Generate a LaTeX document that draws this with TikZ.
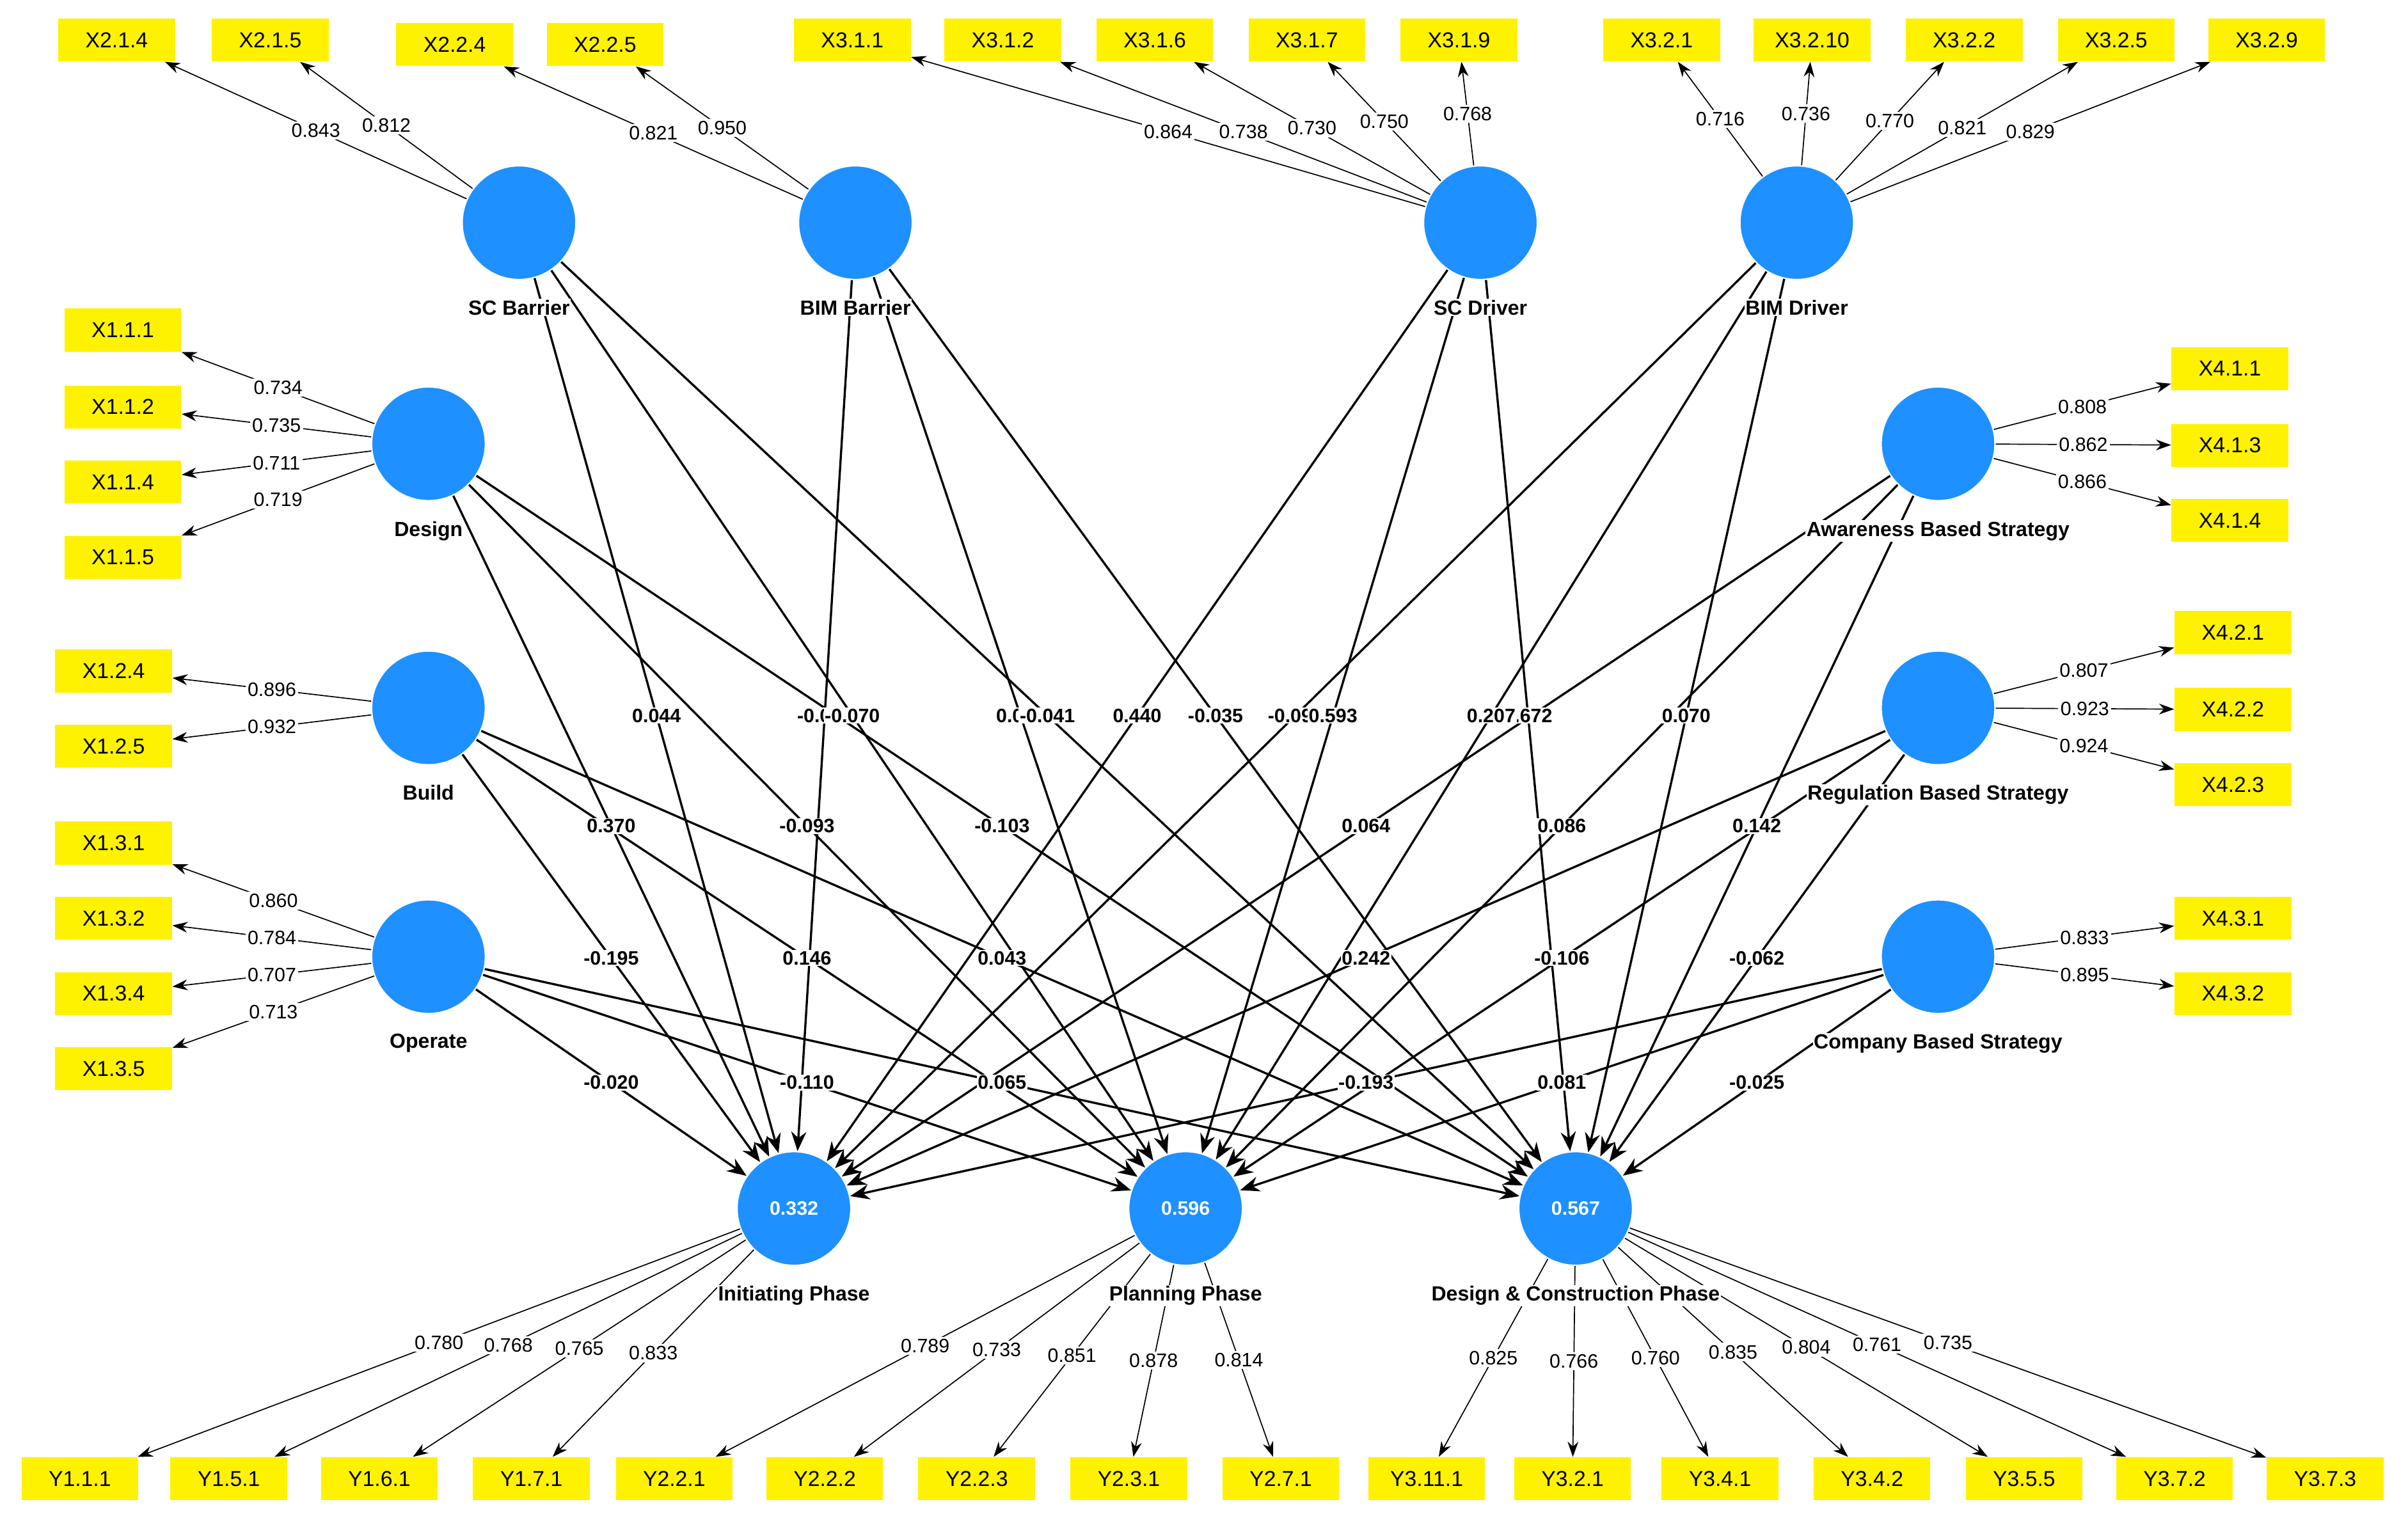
\documentclass[tikz,border=0pt]{standalone}
\usepackage{fontspec}
\setmainfont{Liberation Sans}
\usetikzlibrary{arrows.meta,backgrounds}
\definecolor{lvblue}{RGB}{30,144,255}
\begin{document}
\begin{tikzpicture}[x=0.025cm,y=-0.025cm,
  latent/.style={circle, fill=lvblue, draw=white, line width=0.6pt, minimum size=1.85cm, inner sep=0pt, text=white, font=\fontsize{9}{10}\selectfont\bfseries},
  item/.style={rectangle, fill=yellow, minimum width=1.9cm, minimum height=0.7cm, inner sep=1pt, font=\fontsize{10}{11}\selectfont},
  lname/.style={font=\fontsize{9.5}{11}\selectfont\bfseries, label distance=0.3cm, fill=white, inner sep=0.5pt},
  load/.style={draw, -{Stealth[length=7pt,width=5pt]}, line width=0.5pt},
  path/.style={draw, -{Stealth[length=9pt,width=7pt]}, line width=1pt},
  lval/.style={fill=white, inner sep=1pt, font=\fontsize{9}{10}\selectfont},
  pval/.style={fill=white, inner sep=0.5pt, font=\fontsize{9}{10}\selectfont\bfseries}]
\useasboundingbox (0,0) rectangle (1568,993);

% Latent variables
\node[latent, label={[lname]below:SC Barrier}] (scb) at (338,145) {};
\node[latent, label={[lname]below:BIM Barrier}] (bimb) at (557,145) {};
\node[latent, label={[lname]below:SC Driver}] (scd) at (964,145) {};
\node[latent, label={[lname]below:BIM Driver}] (bimd) at (1170,145) {};
\node[latent, label={[lname]below:Design}] (des) at (279,289) {};
\node[latent, label={[lname]below:Build}] (bui) at (279,461) {};
\node[latent, label={[lname]below:Operate}] (ope) at (279,623) {};
\node[latent, label={[lname]below:Awareness Based Strategy}] (aws) at (1262,289) {};
\node[latent, label={[lname]below:Regulation Based Strategy}] (rbs) at (1262,461) {};
\node[latent, label={[lname]below:Company Based Strategy}] (cbs) at (1262,623) {};
\node[latent, label={[lname]below:Initiating Phase}] (ini) at (517,787) {0.332};
\node[latent, label={[lname]below:Planning Phase}] (pla) at (772,787) {0.596};
\node[latent, label={[lname]below:Design \& Construction Phase}] (dcp) at (1026,787) {0.567};

% Indicators and loadings
\foreach \nm/\x/\y/\lv/\v [count=\k] in {
  X2.1.4/76/26/scb/0.843, X2.1.5/176/26/scb/0.812,
  X2.2.4/296/29/bimb/0.821, X2.2.5/394/29/bimb/0.950,
  X3.1.1/555/26/scd/0.864, X3.1.2/653/26/scd/0.738, X3.1.6/752/26/scd/0.730,
  X3.1.7/851/26/scd/0.750, X3.1.9/950/26/scd/0.768,
  X3.2.1/1082/26/bimd/0.716, X3.2.10/1180/26/bimd/0.736, X3.2.2/1279/26/bimd/0.770,
  X3.2.5/1378/26/bimd/0.821, X3.2.9/1476/26/bimd/0.829,
  X1.1.1/80/215/des/0.734, X1.1.2/80/265/des/0.735, X1.1.4/80/314/des/0.711, X1.1.5/80/363/des/0.719,
  X1.2.4/74/437/bui/0.896, X1.2.5/74/486/bui/0.932,
  X1.3.1/74/549/ope/0.860, X1.3.2/74/598/ope/0.784, X1.3.4/74/647/ope/0.707, X1.3.5/74/696/ope/0.713,
  X4.1.1/1452/240/aws/0.808, X4.1.3/1452/290/aws/0.862, X4.1.4/1452/339/aws/0.866,
  X4.2.1/1454/412/rbs/0.807, X4.2.2/1454/462/rbs/0.923, X4.2.3/1454/511/rbs/0.924,
  X4.3.1/1454/598/cbs/0.833, X4.3.2/1454/647/cbs/0.895,
  Y1.1.1/52/963/ini/0.780, Y1.5.1/149/963/ini/0.768, Y1.6.1/247/963/ini/0.765, Y1.7.1/346/963/ini/0.833,
  Y2.2.1/439/963/pla/0.789, Y2.2.2/537/963/pla/0.733, Y2.2.3/636/963/pla/0.851,
  Y2.3.1/735/963/pla/0.878, Y2.7.1/834/963/pla/0.814,
  Y3.11.1/929/963/dcp/0.825, Y3.2.1/1024/963/dcp/0.766, Y3.4.1/1120/963/dcp/0.760,
  Y3.4.2/1219/963/dcp/0.835, Y3.5.5/1318/963/dcp/0.804, Y3.7.2/1416/963/dcp/0.761, Y3.7.3/1514/963/dcp/0.735} {
  \node[item] (i\k) at (\x,\y) {\nm};
  \begin{scope}[on background layer]
    \draw[load] (\lv) -- node[lval] {\v} (i\k);
  \end{scope}
}

% Structural paths
\begin{scope}[on background layer]
\foreach \src/\dst in {scb/ini, bimb/ini, scb/pla, bimb/pla, scb/dcp, scd/ini, bimb/dcp, bimd/ini,
  scd/pla, scd/dcp, bimd/pla, bimd/dcp, des/ini, des/pla, des/dcp, aws/ini, aws/pla, aws/dcp,
  bui/ini, bui/pla, bui/dcp, rbs/ini, rbs/pla, rbs/dcp, ope/ini, ope/pla, ope/dcp, cbs/ini, cbs/pla, cbs/dcp} {
  \draw[path] (\src) -- (\dst);
}
\end{scope}
\foreach \src/\dst/\v in {
  scb/ini/0.044, bimb/ini/-0.012, scb/pla/-0.070, bimb/pla/0.014, scb/dcp/-0.041,
  scd/ini/0.440, bimb/dcp/-0.035, bimd/ini/-0.091, scd/pla/0.593, scd/dcp/0.672, bimd/pla/0.207, bimd/dcp/0.070,
  des/ini/0.370, des/pla/-0.093, des/dcp/-0.103,
  aws/ini/0.064, aws/pla/0.086, aws/dcp/0.142,
  bui/ini/-0.195, bui/pla/0.146, bui/dcp/0.043,
  rbs/ini/0.242, rbs/pla/-0.106, rbs/dcp/-0.062,
  ope/ini/-0.020, ope/pla/-0.110, ope/dcp/0.065,
  cbs/ini/-0.193, cbs/pla/0.081, cbs/dcp/-0.025} {
  \path (\src.center) -- node[pval] {\v} (\dst.center);
}
\end{tikzpicture}
\end{document}
